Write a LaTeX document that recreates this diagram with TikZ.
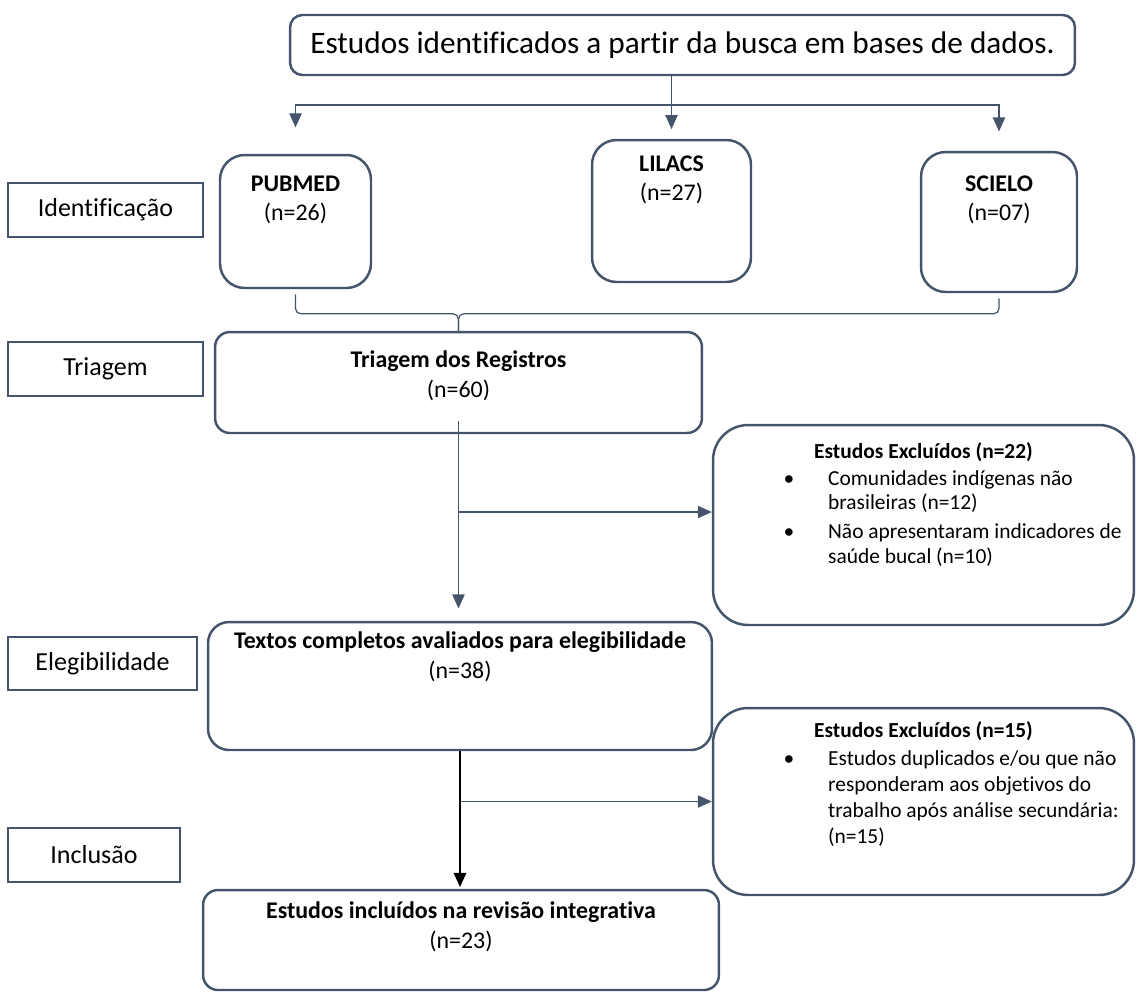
\documentclass[tikz,border=0pt]{standalone}
\usepackage{fontspec}
\setmainfont{Carlito}[Ligatures={NoCommon}]
\usepackage{tikz}
\usetikzlibrary{positioning, arrows.meta, calc}
\definecolor{slate}{HTML}{44546A}

\begin{document}
\begin{tikzpicture}[
  x=0.02cm, y=-0.02cm,
  box/.style={draw=slate, line width=1.4pt, rounded corners=#1, inner sep=0pt},
  box/.default=10pt,
  stagebox/.style={draw=slate, line width=1.4pt, inner sep=0pt,
                   font=\fontsize{14.8}{17}\selectfont},
  boxtxt/.style={align=center, inner sep=0pt, font=\fontsize{13.6}{16.6}\selectfont},
  extitle/.style={inner sep=0pt, font=\fontsize{12.2}{14}\selectfont\bfseries},
  extxt/.style={align=left, inner sep=0pt, font=\fontsize{12.2}{13.8}\selectfont},
  link/.style={draw=slate, line width=0.7pt},
  arr/.style={link, -{Triangle[length=8pt, width=7pt]}},
  finalarr/.style={draw=black, line width=1.1pt, -{Triangle[length=8pt, width=7pt]}},
]
  \useasboundingbox (0,0) rectangle (1136,992);

  % Stage labels on the left
  \node[stagebox, minimum width=3.9cm, minimum height=1.08cm] (ident) at (105.5,210) {Identificação};
  \node[stagebox, minimum width=3.9cm, minimum height=1.08cm] (triag) at (105.5,369) {Triagem};
  \node[stagebox, minimum width=3.78cm, minimum height=1.06cm] (eleg) at (102.5,663.5) {Elegibilidade};
  \node[stagebox, minimum width=3.44cm, minimum height=1.08cm] (inclu) at (94,855) {Inclusão};

  % Search
  \node[box=7pt, minimum width=15.7cm, minimum height=1.2cm,
        font=\fontsize{17.8}{21}\selectfont] (busca) at (682.5,45)
        {Estudos identificados a partir da busca em bases de dados.};

  % Databases
  \node[box=14pt, minimum width=3.02cm, minimum height=2.66cm] (pubmed) at (295.5,221.5) {};
  \node[box=14pt, minimum width=3.18cm, minimum height=2.84cm] (lilacs) at (671.5,211) {};
  \node[box=14pt, minimum width=3.12cm, minimum height=2.8cm] (scielo) at (999,222) {};
  \node[boxtxt] (pubmed-t) at ($(pubmed.north)+(0,46)$) {\textbf{PUBMED}\\(n=26)};
  \node[boxtxt] (lilacs-t) at ($(lilacs.north)+(0,41)$) {\textbf{LILACS}\\(n=27)};
  \node[boxtxt] (scielo-t) at ($(scielo.north)+(0,49)$) {\textbf{SCIELO}\\(n=07)};

  \coordinate (split) at (671.5,105);
  \draw[arr, shorten >=5.5pt] (busca.south -| lilacs.north) -- (lilacs.north);
  \draw[arr, shorten >=15pt] (split) -| (pubmed.north);
  \draw[arr, shorten >=11pt] (split) -| (scielo.north);

  % Screening
  \node[box=8.5pt, minimum width=9.74cm, minimum height=2.02cm] (triagem) at (458.5,382.5) {};
  \node[boxtxt] (triagem-t) at ($(triagem.north)+(0,45)$) {\textbf{Triagem dos Registros}\\(n=60)};

  \coordinate (brace) at ($(triagem.north)+(0,-17)$);
  \draw[link, rounded corners=3pt] ([yshift=-3pt]pubmed.south) |- (brace) -- (triagem.north);
  \draw[link, rounded corners=3pt] ([yshift=-3pt]scielo.south) |- (brace) -- (triagem.north);

  % Excluded after screening
  \node[box=20pt, minimum width=8.42cm, minimum height=4cm] (excl1) at (923.5,525) {};
  \node[extitle] (excl1-t) at ($(excl1.north)+(0,28)$) {Estudos Excluídos (n=22)};
  \node[extxt, anchor=north west] (excl1-l) at ($(excl1.north west)+(116,46)$)
    {\llap{\textbullet\hspace{0.68cm}}Comunidades indígenas não\\
     brasileiras (n=12)\\[3pt]
     \llap{\textbullet\hspace{0.68cm}}Não apresentaram indicadores de\\
     saúde bucal (n=10)};

  % Eligibility
  \node[box=12pt, minimum width=10.08cm, minimum height=2.56cm] (textos) at (460,686) {};
  \node[boxtxt] (textos-t) at ($(textos.north)+(0,36)$)
    {\textbf{Textos completos avaliados para elegibilidade}\\(n=38)};

  \coordinate (b1) at (458.5,512);
  \draw[arr, shorten >=7pt] ($(triagem.south)+(0,-13)$) -- (triagem.south |- textos.north);
  \draw[arr] (b1) -- (b1 -| excl1.west);

  % Excluded after eligibility
  \node[box=20pt, minimum width=8.42cm, minimum height=3.74cm] (excl2) at (923.5,801.5) {};
  \node[extitle] (excl2-t) at ($(excl2.north)+(0,24)$) {Estudos Excluídos (n=15)};
  \node[extxt, anchor=north west, font=\fontsize{12.2}{14.8}\selectfont] (excl2-l) at ($(excl2.north west)+(116,43)$)
    {\llap{\textbullet\hspace{0.68cm}}Estudos duplicados e/ou que não\\
     responderam aos objetivos do\\
     trabalho após análise secundária:\\
     (n=15)};

  % Included
  \node[box=8.5pt, minimum width=10.32cm, minimum height=2cm] (incl) at (461,940) {};
  \node[boxtxt] (incl-t) at ($(incl.north)+(0,38)$)
    {\textbf{Estudos incluídos na revisão integrativa}\\(n=23)};

  \coordinate (b2) at (textos.south |- excl2.west);
  \draw[finalarr, shorten >=1pt] (textos.south) -- (textos.south |- incl.north);
  \draw[arr] (b2) -- (excl2.west);

\end{tikzpicture}
\end{document}
